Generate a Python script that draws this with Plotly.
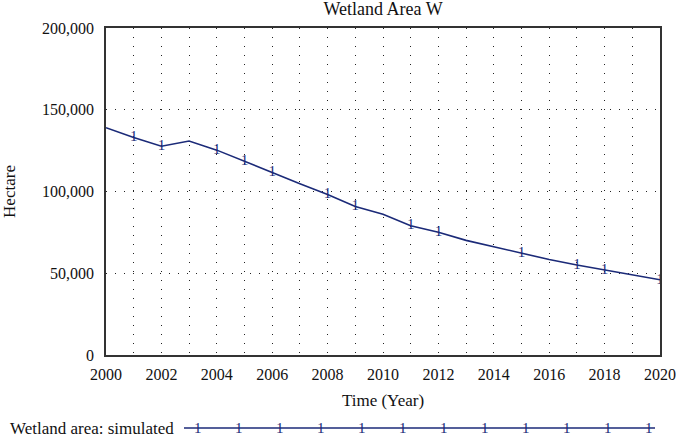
import plotly.graph_objects as go

# Data
years = list(range(2000, 2021))
wetland_area = [139000, 133000, 127700, 130900, 125300, 118300, 111600, 104800,
                98200, 90800, 86100, 79100, 75100, 70100, 66100, 62000,
                58400, 55000, 52000, 49000, 46000]
marker_years = [2001, 2002, 2004, 2005, 2006, 2008, 2009, 2011, 2012, 2015, 2017, 2018, 2020]
marker_values = [wetland_area[years.index(y)] for y in marker_years]
x_tick_vals = list(range(2000, 2021, 2))
y_tick_vals = [0, 50000, 100000, 150000, 200000]

NAVY = "#1b2a78"
FONT = "Liberation Serif"

fig = go.Figure()
fig.add_trace(go.Scatter(x=years, y=wetland_area, mode="lines",
                         line=dict(color=NAVY, width=1.6), showlegend=False,
                         hoverinfo="skip"))
fig.add_trace(go.Scatter(x=marker_years, y=marker_values, mode="text", text=["1"] * len(marker_years),
                         textposition="middle center",
                         textfont=dict(family=FONT, size=15, color=NAVY), showlegend=False))

fig.update_layout(
    width=676, height=440,
    margin=dict(l=106, r=16, t=28, b=85),
    paper_bgcolor="white", plot_bgcolor="white",
    font=dict(family=FONT, size=16, color="#111"),
    title=dict(text="Wetland Area W", x=0.5667, xanchor="center", y=0.995, yanchor="top",
               font=dict(family=FONT, size=18, color="#111")),
)
fig.update_xaxes(range=[2000, 2020], tickvals=x_tick_vals, showline=True, mirror=True,
                 linecolor="#333", linewidth=1.5, ticks="", zeroline=False, automargin=False,
                 showgrid=True, gridcolor="#222", griddash="1px,8px", gridwidth=1,
                 minor=dict(dtick=1, tick0=2000, showgrid=True, gridcolor="#222",
                            griddash="1px,8px", gridwidth=1),
                 title=dict(text="Time (Year)", standoff=12, font=dict(size=17)),
                 tickfont=dict(size=16), ticklabelstandoff=4)
fig.update_yaxes(range=[0, 200000], tickvals=y_tick_vals, tickformat=",", showline=True, mirror=True,
                 linecolor="#333", linewidth=1.5, ticks="", zeroline=False, automargin=False,
                 showgrid=True, gridcolor="#222", griddash="1px,8px", gridwidth=1,
                 title=dict(text="Hectare", standoff=28, font=dict(size=17)),
                 tickfont=dict(size=16), ticklabelstandoff=7)

# Legend row (drawn as decoration in paper coordinates)
leg_y = (355 - 428) / 327.0
def px2paper(px):
    return (px - 106) / 554.0

fig.add_shape(type="line", xref="paper", yref="paper", x0=px2paper(184), x1=px2paper(655),
              y0=leg_y, y1=leg_y, line=dict(color=NAVY, width=1.6))
for px in [198, 239, 280, 321, 362, 403, 444, 485, 526, 567, 608, 649]:
    fig.add_annotation(xref="paper", yref="paper", x=px2paper(px), y=leg_y, text="1",
                       showarrow=False, xanchor="center", yanchor="middle",
                       font=dict(family=FONT, size=15, color=NAVY))
fig.add_annotation(xref="paper", yref="paper", x=px2paper(8), y=leg_y,
                   text="Wetland area: simulated", showarrow=False, xanchor="left",
                   yanchor="middle", font=dict(family=FONT, size=17, color="#111"))

fig.write_html("out.html", config={"displayModeBar": False},
               post_script="document.body.style.margin='0px';")
